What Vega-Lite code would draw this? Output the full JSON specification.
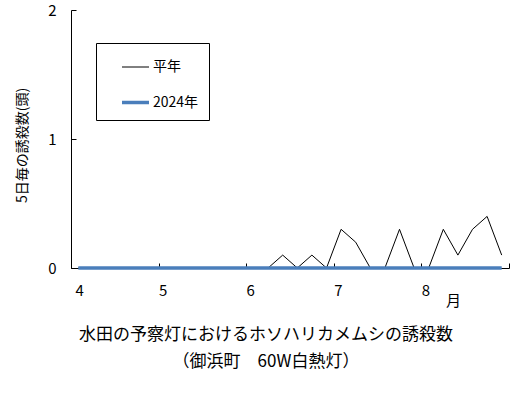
{
  "$schema": "https://vega.github.io/schema/vega-lite/v6.json",
  "width": 438,
  "height": 258,
  "autosize": "none",
  "padding": {"left": 71, "top": 10, "right": 6, "bottom": 129},
  "background": "white",
  "config": {
    "view": {"stroke": null},
    "font": "Noto Sans CJK JP",
    "axis": {
      "domainColor": "#000000",
      "tickColor": "#000000",
      "labelColor": "#000000",
      "titleColor": "#000000",
      "labelFont": "Noto Sans CJK JP",
      "titleFont": "Noto Sans CJK JP",
      "titleFontWeight": "normal",
      "grid": false,
      "labelOverlap": false,
      "labelFontSize": 15
    },
    "legend": {
      "orient": "none",
      "legendX": 25,
      "legendY": 33,
      "title": null,
      "symbolType": "stroke",
      "symbolSize": 729,
      "strokeColor": "#000000",
      "fillColor": "#ffffff",
      "padding": 10,
      "symbolOffset": 14,
      "rowPadding": 13,
      "labelFont": "Noto Sans CJK JP",
      "labelFontSize": 14,
      "labelColor": "#000000",
      "labelOffset": 2
    }
  },
  "title": {
    "text": ["水田の予察灯におけるホソハリカメムシの誘殺数", "（御浜町　60W白熱灯）"],
    "orient": "bottom",
    "anchor": "middle",
    "font": "Noto Sans CJK JP",
    "fontSize": 17,
    "fontWeight": "normal",
    "color": "#000000",
    "lineHeight": 27,
    "offset": 19,
    "dx": -24
  },
  "data": {
    "values": [
      {"半旬": 1, "系列": "平年", "誘殺数": 0}, {"半旬": 2, "系列": "平年", "誘殺数": 0},
      {"半旬": 3, "系列": "平年", "誘殺数": 0}, {"半旬": 4, "系列": "平年", "誘殺数": 0},
      {"半旬": 5, "系列": "平年", "誘殺数": 0}, {"半旬": 6, "系列": "平年", "誘殺数": 0},
      {"半旬": 7, "系列": "平年", "誘殺数": 0}, {"半旬": 8, "系列": "平年", "誘殺数": 0},
      {"半旬": 9, "系列": "平年", "誘殺数": 0}, {"半旬": 10, "系列": "平年", "誘殺数": 0},
      {"半旬": 11, "系列": "平年", "誘殺数": 0}, {"半旬": 12, "系列": "平年", "誘殺数": 0},
      {"半旬": 13, "系列": "平年", "誘殺数": 0}, {"半旬": 14, "系列": "平年", "誘殺数": 0},
      {"半旬": 15, "系列": "平年", "誘殺数": 0.1}, {"半旬": 16, "系列": "平年", "誘殺数": 0},
      {"半旬": 17, "系列": "平年", "誘殺数": 0.1}, {"半旬": 18, "系列": "平年", "誘殺数": 0},
      {"半旬": 19, "系列": "平年", "誘殺数": 0.3}, {"半旬": 20, "系列": "平年", "誘殺数": 0.2},
      {"半旬": 21, "系列": "平年", "誘殺数": 0}, {"半旬": 22, "系列": "平年", "誘殺数": 0},
      {"半旬": 23, "系列": "平年", "誘殺数": 0.3}, {"半旬": 24, "系列": "平年", "誘殺数": 0},
      {"半旬": 25, "系列": "平年", "誘殺数": 0}, {"半旬": 26, "系列": "平年", "誘殺数": 0.3},
      {"半旬": 27, "系列": "平年", "誘殺数": 0.1}, {"半旬": 28, "系列": "平年", "誘殺数": 0.3},
      {"半旬": 29, "系列": "平年", "誘殺数": 0.4}, {"半旬": 30, "系列": "平年", "誘殺数": 0.1},
      {"半旬": 1, "系列": "2024年", "誘殺数": 0}, {"半旬": 2, "系列": "2024年", "誘殺数": 0},
      {"半旬": 3, "系列": "2024年", "誘殺数": 0}, {"半旬": 4, "系列": "2024年", "誘殺数": 0},
      {"半旬": 5, "系列": "2024年", "誘殺数": 0}, {"半旬": 6, "系列": "2024年", "誘殺数": 0},
      {"半旬": 7, "系列": "2024年", "誘殺数": 0}, {"半旬": 8, "系列": "2024年", "誘殺数": 0},
      {"半旬": 9, "系列": "2024年", "誘殺数": 0}, {"半旬": 10, "系列": "2024年", "誘殺数": 0},
      {"半旬": 11, "系列": "2024年", "誘殺数": 0}, {"半旬": 12, "系列": "2024年", "誘殺数": 0},
      {"半旬": 13, "系列": "2024年", "誘殺数": 0}, {"半旬": 14, "系列": "2024年", "誘殺数": 0},
      {"半旬": 15, "系列": "2024年", "誘殺数": 0}, {"半旬": 16, "系列": "2024年", "誘殺数": 0},
      {"半旬": 17, "系列": "2024年", "誘殺数": 0}, {"半旬": 18, "系列": "2024年", "誘殺数": 0},
      {"半旬": 19, "系列": "2024年", "誘殺数": 0}, {"半旬": 20, "系列": "2024年", "誘殺数": 0},
      {"半旬": 21, "系列": "2024年", "誘殺数": 0}, {"半旬": 22, "系列": "2024年", "誘殺数": 0},
      {"半旬": 23, "系列": "2024年", "誘殺数": 0}, {"半旬": 24, "系列": "2024年", "誘殺数": 0},
      {"半旬": 25, "系列": "2024年", "誘殺数": 0}, {"半旬": 26, "系列": "2024年", "誘殺数": 0},
      {"半旬": 27, "系列": "2024年", "誘殺数": 0}, {"半旬": 28, "系列": "2024年", "誘殺数": 0},
      {"半旬": 29, "系列": "2024年", "誘殺数": 0}, {"半旬": 30, "系列": "2024年", "誘殺数": 0}
    ]
  },
  "encoding": {
    "color": {
      "field": "系列",
      "type": "nominal",
      "scale": {"domain": ["平年", "2024年"], "range": ["#000000", "#4a7ebb"]}
    },
    "strokeWidth": {
      "field": "系列",
      "type": "nominal",
      "scale": {"domain": ["平年", "2024年"], "range": [1, 3.5]}
    }
  },
  "layer": [
    {
      "transform": [{"filter": "datum['系列'] === '平年'"}],
      "mark": {"type": "line"},
      "encoding": {
        "x": {
          "field": "半旬",
          "type": "quantitative",
          "scale": {"domain": [0.5, 30.5], "nice": false, "zero": false},
          "axis": {
            "title": "月",
            "titleFontSize": 15,
            "titleX": 382,
            "titleY": 32,
            "titleBaseline": "middle",
            "values": [0.5, 6.5, 12.5, 18.5, 24.5, 30.5],
            "labelExpr": "datum.value < 30 ? format((datum.value - 0.5) / 6 + 4, 'd') : ''",
            "ticks": false,
            "labelPadding": 15,
            "labelOffset": 4,
            "labelBaseline": "top"
          }
        },
        "y": {
          "field": "誘殺数",
          "type": "quantitative",
          "scale": {"domain": [0, 2], "nice": false},
          "axis": {
            "title": "5日毎の誘殺数(頭)",
            "titleFontSize": 14,
            "titleX": -49,
            "titleY": 135,
            "titleAngle": -90,
            "titleAlign": "center",
            "titleBaseline": "middle",
            "values": [0, 1, 2],
            "labelExpr": "format(datum.value, 'd')",
            "ticks": false,
            "labelPadding": 15
          }
        }
      }
    },
    {
      "transform": [{"filter": "datum['系列'] === '2024年'"}],
      "mark": {"type": "line"},
      "encoding": {
        "x": {
          "field": "半旬",
          "type": "quantitative",
          "axis": {
            "orient": "top",
            "offset": -258,
            "title": null,
            "labels": false,
            "domain": false,
            "ticks": true,
            "tickSize": 5,
            "tickWidth": 1,
            "values": [0.5, 6.5, 12.5, 18.5, 24.5, 30.5]
          }
        },
        "y": {
          "field": "誘殺数",
          "type": "quantitative",
          "axis": {
            "orient": "right",
            "offset": -438,
            "title": null,
            "labels": false,
            "domain": false,
            "ticks": true,
            "tickSize": 5,
            "tickWidth": 1,
            "values": [0, 1, 2]
          }
        }
      }
    }
  ],
  "resolve": {"axis": {"x": "independent", "y": "independent"}}
}
